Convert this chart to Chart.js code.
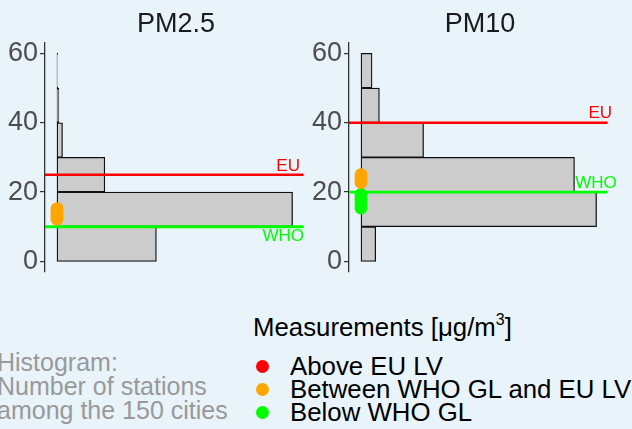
<!DOCTYPE html>
<html lang="en">

<head>
    <meta charset="UTF-8">
    <title>PM2.5 / PM10</title>
    <style>
        body {
            margin: 0;
            background: #E8F4FA;
            font-family: "Liberation Sans", Arial, sans-serif;
        }

        #page {
            position: relative;
            width: 632px;
            height: 429px;
            overflow: hidden;
        }

        .panel {
            position: absolute;
            top: 0;
            height: 290px;
        }

        #pm25Box { left: 0; width: 316px; }
        #pm10Box { left: 304px; width: 328px; }

        #caption {
            position: absolute;
            left: -3px;
            top: 350px;
            font-size: 25px;
            line-height: 24px;
            color: #999999;
            white-space: nowrap;
        }

        #legendTitle {
            position: absolute;
            left: 253px;
            top: 315px;
            font-size: 25.8px;
            line-height: 25px;
            color: #000;
            white-space: nowrap;
        }

        #legendTitle .sup {
            font-size: 16px;
            position: relative;
            top: -11px;
        }

        .item {
            position: absolute;
            left: 290px;
            height: 23px;
            font-size: 25.8px;
            line-height: 23px;
            color: #000;
            white-space: nowrap;
        }

        .dot {
            position: absolute;
            left: -34px;
            top: 5px;
            width: 13px;
            height: 13px;
            border-radius: 50%;
        }
    </style>
</head>

<body>
    <div id="page">
        <div class="panel" id="pm25Box"><canvas id="pm25"></canvas></div>
        <div class="panel" id="pm10Box"><canvas id="pm10"></canvas></div>

        <div id="caption">Histogram:<br>Number of stations<br>among the 150 cities</div>

        <div id="legendTitle">Measurements [μg/m<span class="sup">3</span>]</div>
        <div class="item" style="top:355px"><span class="dot" style="background:#FF0000"></span>Above EU LV</div>
        <div class="item" style="top:378px"><span class="dot" style="background:#FFA500"></span>Between WHO GL and EU LV</div>
        <div class="item" style="top:401px"><span class="dot" style="background:#00FF00"></span>Below WHO GL</div>
    </div>

    <script src="https://cdn.jsdelivr.net/npm/chart.js"></script>
    <script>
        // histogram bins (centre of each 10 µg/m3 bin)
        const binCenters = [5, 15, 25, 35, 45, 55];
        const pm25Counts = [27, 64, 13, 1.5, 0.5, 0.2];
        const pm10Counts = [4, 64, 58, 17, 5, 3];
        const yTicks = [0, 20, 40, 60];

        // limit values
        const pm25EU = 25, pm25WHO = 10;
        const pm10EU = 40, pm10WHO = 20;

        // measurements of the city
        const pm25Between = [12.2, 13.2, 14.2, 15.2];
        const pm25Below = [];
        const pm10Between = [22.8, 23.9, 25.0];
        const pm10Below = [15.4, 16.7, 18.0, 19.3];

        const FONT = '"Liberation Sans", Arial, sans-serif';
        const X_MAX = 65.2;       // count scale of a panel
        const LINE_END = 67;      // where the limit lines stop

        // draws panel title and EU / WHO labels
        const panelText = {
            id: 'panelText',
            afterDatasetsDraw(chart, args, opts) {
                const c = chart.ctx, area = chart.chartArea;
                const xs = chart.scales.x, ys = chart.scales.y;
                c.save();
                c.fillStyle = '#1A1A1A';
                c.font = '27px ' + FONT;
                c.textAlign = 'center';
                c.textBaseline = 'middle';
                c.fillText(opts.title, (area.left + area.right) / 2 - 1, 25);
                c.font = '17px ' + FONT;
                c.textAlign = 'right';
                c.textBaseline = 'alphabetic';
                opts.labels.forEach(l => {
                    c.fillStyle = l.color;
                    c.fillText(l.text, xs.getPixelForValue(l.x), ys.getPixelForValue(l.value) + l.dy);
                });
                c.restore();
            }
        };

        function points(values) {
            return values.map(v => ({ x: 0, y: v }));
        }

        function makePanel(id, title, counts, eu, who, between, below, padRight, labelPos) {
            return new Chart(document.getElementById(id), {
                type: 'bar',
                data: {
                    datasets: [{
                        data: binCenters.map((b, i) => ({ x: counts[i], y: b })),
                        backgroundColor: '#CCCCCC',
                        borderColor: '#111111',
                        borderWidth: 1.3,
                        borderSkipped: false,
                        barPercentage: 1,
                        categoryPercentage: 1,
                        order: 5
                    }, {
                        type: 'line',
                        data: [{ x: -X_MAX * 0.05, y: eu }, { x: LINE_END, y: eu }],
                        borderColor: '#FF0000',
                        borderWidth: 2.5,
                        pointRadius: 0,
                        order: 4
                    }, {
                        type: 'line',
                        data: [{ x: -X_MAX * 0.05, y: who }, { x: LINE_END, y: who }],
                        borderColor: '#00FF00',
                        borderWidth: 2.8,
                        pointRadius: 0,
                        order: 3
                    }, {
                        type: 'scatter',
                        data: points(below),
                        backgroundColor: '#00FF00',
                        borderWidth: 0,
                        pointRadius: 6.5,
                        order: 2
                    }, {
                        type: 'scatter',
                        data: points(between),
                        backgroundColor: '#FFA500',
                        borderWidth: 0,
                        pointRadius: 6.5,
                        order: 1
                    }]
                },
                options: {
                    indexAxis: 'y',
                    animation: false,
                    responsive: true,
                    maintainAspectRatio: false,
                    layout: { padding: { top: 43, bottom: 16, left: 0, right: padRight } },
                    scales: {
                        x: {
                            type: 'linear',
                            display: false,
                            offset: false,
                            min: -X_MAX * 0.05,
                            max: X_MAX * 1.05
                        },
                        y: {
                            type: 'linear',
                            offset: false,
                            min: -3,
                            max: 63,
                            afterBuildTicks: s => { s.ticks = yTicks.map(v => ({ value: v })); },
                            afterFit: s => { s.width = 45; },
                            ticks: { color: '#4D4D4D', font: { size: 27, family: FONT }, padding: 2 },
                            grid: { display: true, offset: false, drawOnChartArea: false, drawTicks: true, tickLength: 5, color: '#333333', lineWidth: 1.2 },
                            border: { display: true, color: '#333333', width: 1.3 }
                        }
                    },
                    plugins: {
                        legend: { display: false },
                        tooltip: { enabled: false },
                        panelText: {
                            title: title,
                            labels: [
                                { text: 'EU', value: eu, x: labelPos.eu, dy: labelPos.euDy, color: '#FF0000' },
                                { text: 'WHO', value: who, x: labelPos.who, dy: labelPos.whoDy, color: '#00FF00' }
                            ]
                        }
                    }
                },
                plugins: [panelText]
            });
        }

        makePanel('pm25', 'PM2.5', pm25Counts, pm25EU, pm25WHO, pm25Between, pm25Below, 7,
            { eu: 66, euDy: -4, who: 67.1, whoDy: 14 });
        makePanel('pm10', 'PM10', pm10Counts, pm10EU, pm10WHO, pm10Between, pm10Below, 19,
            { eu: 68.2, euDy: -5, who: 69.5, whoDy: -4 });
    </script>
</body>

</html>
